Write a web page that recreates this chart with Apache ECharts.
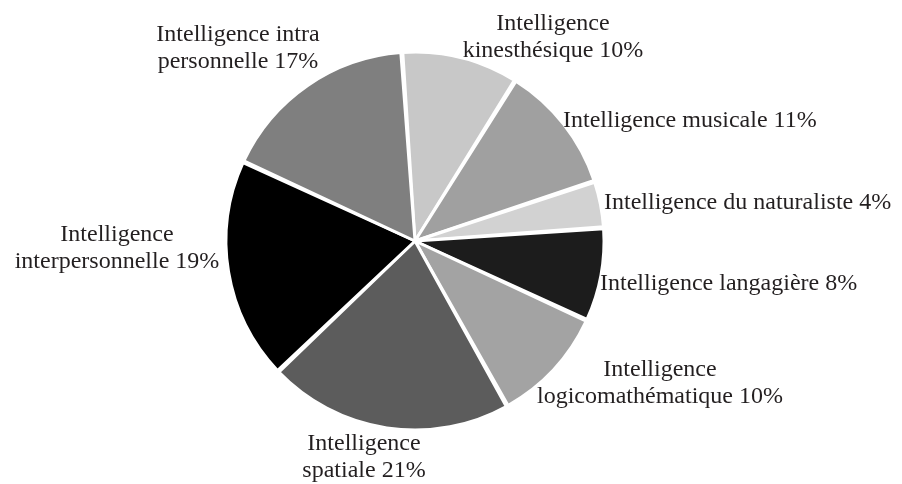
<!DOCTYPE html>
<html lang="fr">
<head>
    <meta charset="utf-8">
    <script src="https://cdn.jsdelivr.net/npm/echarts@6/dist/echarts.min.js"></script>
    <style>
        html, body {margin: 0; padding: 0; background: #fff;}
        #main {width: 902px; height: 484px;}
    </style>
</head>
<body>
<div id="main"></div>
<script>
    // categories, clockwise from 12 o'clock
    var categories = [
        'Intelligence\nkinesthésique',
        'Intelligence musicale',
        'Intelligence du naturaliste',
        'Intelligence langagière',
        'Intelligence\nlogicomathématique',
        'Intelligence\nspatiale',
        'Intelligence\ninterpersonnelle',
        'Intelligence intra\npersonnelle'
    ];
    var values = [10, 11, 4, 8, 10, 21, 19, 17];
    var colors = ['#c8c8c8', '#a0a0a0', '#d2d2d2', '#1c1c1c', '#a3a3a3', '#5c5c5c', '#000000', '#7f7f7f'];

    var chart = echarts.init(document.getElementById('main'));

    var data = [];
    for (var i = 0; i < categories.length; i++) {
        data.push({
            name: categories[i],
            value: values[i],
            itemStyle: {color: colors[i]}
        });
    }

    // where each label sits (x, y, text alignment)
    var labelPlace = [
        [553, 37, 'center'],
        [563, 121, 'left'],
        [604, 203, 'left'],
        [600, 284, 'left'],
        [660, 383, 'center'],
        [364, 457, 'center'],
        [117, 248, 'center'],
        [238, 48, 'center']
    ];

    chart.setOption({
        animation: false,
        series: [{
            type: 'pie',
            center: [415, 241],
            radius: 189,
            startAngle: 94,
            clockwise: true,
            padAngle: 0.6,
            itemStyle: {borderColor: '#fff', borderWidth: 3},
            label: {
                show: true,
                position: 'outside',
                formatter: function (p) { return p.name + ' ' + p.value + '%'; },
                fontFamily: 'Liberation Serif',
                fontSize: 24,
                lineHeight: 27,
                color: '#231f20',
                overflow: 'none'
            },
            labelLine: {show: false},
            labelLayout: function (p) {
                var s = labelPlace[p.dataIndex];
                return {x: s[0], y: s[1], align: s[2], verticalAlign: 'middle'};
            },
            emphasis: {disabled: true},
            data: data
        }]
    });
</script>
</body>
</html>
